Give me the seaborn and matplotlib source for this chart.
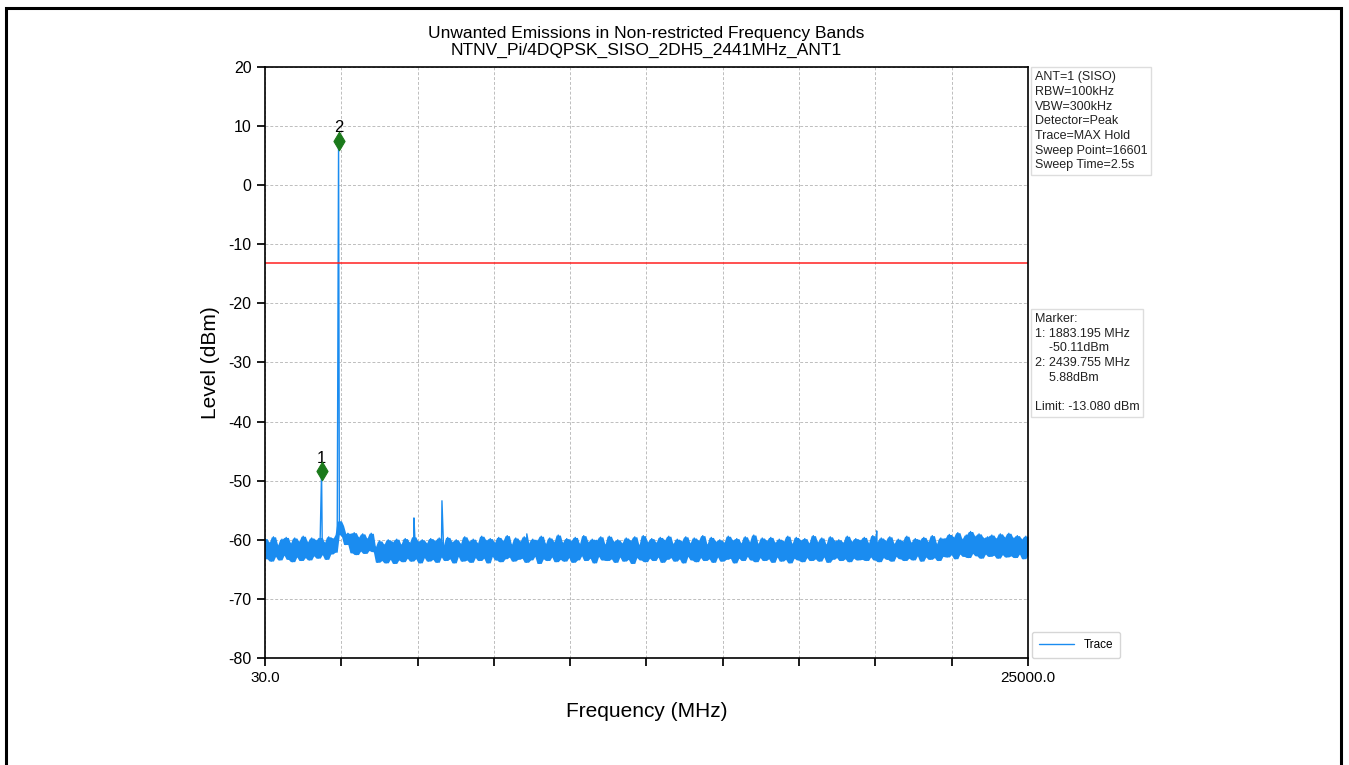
import numpy as np
import pandas as pd
import seaborn as sns
import matplotlib.pyplot as plt
from matplotlib.patches import Rectangle

# ---------------- Datos ----------------
f_start = 30.0
f_stop = 25000.0
limit_dbm = -13.08

# nivel del ruido (barrido uniforme de 30 a 25000 MHz)
noise_levels = [
    -59.8, -63.2, -60.5, -63.6, -59.5, -62.8, -60.9, -63.4, -59.9, -62.6, -59.6, -63.3, -60.6, -63.7, -59.7, -62.9, -60.3, -63.5, -59.4, -63.0,
    -60.4, -63.4, -59.7, -62.7, -60.1, -63.1, -59.6, -62.5, -60.5, -63.3, -59.5, -62.4, -59.8, -62.1, -59.1, -56.8, -57.6, -59.4, -60.8, -58.9,
    -59.3, -62.2, -58.8, -62.5, -59.6, -61.9, -59.0, -62.3, -59.8, -61.8, -58.9, -62.0, -61.2, -63.8, -60.2, -63.5, -60.8, -63.9, -60.0, -63.3,
    -60.4, -64.0, -59.9, -63.4, -60.8, -63.7, -59.8, -63.1, -60.5, -63.6, -59.5, -63.2, -60.3, -63.9, -60.0, -63.0, -60.6, -63.6, -59.8, -63.3,
    -60.2, -63.8, -59.7, -62.9, -60.9, -63.5, -59.6, -63.2, -60.4, -63.9, -60.0, -62.8, -60.7, -63.6, -59.5, -63.4, -60.3, -63.8, -59.9, -63.0,
    -60.6, -63.5, -59.4, -63.1, -60.1, -63.9, -59.8, -62.8, -60.5, -63.4, -59.6, -63.7, -60.2, -63.2, -59.3, -62.9, -60.8, -63.6, -59.7, -63.3,
    -60.3, -63.1, -59.5, -63.8, -60.6, -63.4, -59.9, -62.8, -60.1, -64.0, -59.4, -63.2, -60.7, -63.5, -59.7, -62.9, -60.4, -63.7, -59.2, -63.3,
    -60.5, -63.6, -59.8, -63.0, -60.2, -63.8, -59.6, -63.4, -60.7, -62.7, -59.3, -63.5, -60.4, -63.1, -59.9, -63.9, -60.1, -62.8, -59.5, -63.4,
    -60.8, -63.5, -59.4, -63.2, -60.3, -63.8, -60.0, -62.9, -60.6, -63.6, -59.7, -63.3, -60.2, -64.0, -59.5, -63.0, -60.9, -63.4, -59.3, -63.7,
    -60.4, -63.1, -59.8, -63.5, -60.5, -62.9, -59.6, -63.8, -60.1, -63.3, -59.4, -63.0, -60.7, -63.6, -59.9, -63.2, -60.3, -63.9, -59.5, -62.8,
    -60.6, -63.4, -59.7, -63.7, -60.2, -63.0, -59.3, -63.5, -60.8, -63.2, -59.6, -63.8, -60.3, -62.9, -60.0, -63.6, -60.5, -63.3, -59.4, -63.1,
    -60.1, -63.9, -59.8, -63.1, -60.6, -63.5, -59.5, -62.8, -60.4, -63.4, -59.2, -63.7, -60.7, -63.0, -59.7, -63.5, -60.2, -63.2, -59.6, -63.8,
    -60.5, -62.9, -59.9, -63.6, -60.3, -63.3, -59.4, -63.9, -60.7, -63.1, -59.6, -63.4, -60.1, -63.7, -59.8, -63.0, -60.6, -63.5, -59.3, -63.2,
    -60.4, -63.6, -59.7, -62.9, -60.8, -63.8, -59.5, -63.3, -60.2, -63.0, -60.0, -63.5, -60.5, -63.2, -59.4, -63.7, -60.3, -63.1, -59.8, -63.4,
    -60.1, -63.3, -59.6, -63.5, -60.6, -62.9, -59.3, -63.4, -60.4, -63.7, -59.7, -63.0, -60.2, -63.3, -59.5, -63.6, -60.7, -62.8, -59.9, -63.2,
    -60.3, -63.5, -59.4, -63.1, -60.5, -63.4, -59.8, -62.7, -60.1, -63.6, -59.6, -62.9, -60.4, -63.3, -59.3, -63.0, -60.7, -63.5, -59.7, -62.8,
    -59.8, -62.9, -59.1, -62.5, -59.6, -63.2, -58.8, -62.4, -59.9, -62.8, -59.2, -63.0, -58.6, -62.3, -59.4, -62.7, -59.0, -63.1, -59.7, -62.4,
    -59.5, -62.8, -59.2, -62.6, -59.8, -63.1, -59.0, -62.5, -59.6, -62.9, -58.9, -62.7, -59.7, -63.0, -59.3, -62.4, -59.9, -63.2, -59.4, -62.6,
]

# picos discretos (MHz, dBm)
spike_freq = [1883.195, 2439.755, 4906.0, 5823.0, 8600.0, 20050.0]
spike_level = [-48.4, 7.5, -56.3, -53.4, -59.0, -58.5]

# marcadores
marker_id = ["1", "2"]
marker_freq = [1883.195, 2439.755]
marker_level = [-48.4, 7.5]

setup_text = ("ANT=1 (SISO)\nRBW=100kHz\nVBW=300kHz\nDetector=Peak\n"
              "Trace=MAX Hold\nSweep Point=16601\nSweep Time=2.5s")
marker_text = ("Marker:\n1: 1883.195 MHz\n    -50.11dBm\n2: 2439.755 MHz\n"
               "    5.88dBm\n\nLimit: -13.080 dBm")

# ---------------- Tabla de la traza ----------------
sweep_freq = np.linspace(f_start, f_stop, len(noise_levels))
df = pd.DataFrame({
    "freq": np.concatenate([sweep_freq, spike_freq]),
    "level": np.concatenate([noise_levels, spike_level]),
}).sort_values("freq")

# banda del ruido: máximos y mínimos locales de la traza barrida
noise = pd.Series(noise_levels)
band_hi = noise.rolling(3, center=True, min_periods=1).max()
band_lo = noise.rolling(3, center=True, min_periods=1).min()

# ---------------- Gráfica ----------------
sns.set_theme(style="ticks")
plt.rcParams["font.family"] = ["Liberation Sans", "DejaVu Sans"]
plt.rcParams["axes.unicode_minus"] = False
plt.rcParams["text.color"] = "black"
plt.rcParams["axes.labelcolor"] = "black"
plt.rcParams["xtick.color"] = "black"
plt.rcParams["ytick.color"] = "black"

trace_color = "#1a8cf0"

fig = plt.figure(figsize=(13.49, 7.65), dpi=100)
ax = fig.add_axes([0.1964, 0.1399, 0.5656, 0.7725])

ax.fill_between(sweep_freq, band_lo, band_hi, color=trace_color, linewidth=0)
sns.lineplot(data=df, x="freq", y="level", ax=ax, color=trace_color,
             linewidth=1.0, estimator=None, sort=False, label="Trace")
ax.axhline(limit_dbm, color="#ff2020", linewidth=1.1)

sns.scatterplot(x=marker_freq, y=marker_level, ax=ax, marker="d", s=90,
                color="#1b7a1b", edgecolor="#1b7a1b", zorder=5, legend=False)
for mid, mf, ml in zip(marker_id, marker_freq, marker_level):
    ax.annotate(mid, (mf, ml), xytext=(0, 4), textcoords="offset points",
                ha="center", va="bottom", fontsize=12)

xt = np.linspace(f_start, f_stop, 11)
ax.set_xticks(xt)
ax.set_xticklabels(["30.0"] + [""] * 9 + ["25000.0"], fontsize=11)
ax.set_xlim(f_start, f_stop)
ax.set_ylim(-80, 20)
ax.set_yticks(np.arange(-80, 21, 10))
ax.tick_params(axis="y", labelsize=11.5)
ax.grid(True, linestyle=(0, (3, 2)), color="#bdbdbd", linewidth=0.7)

ax.set_xlabel("Frequency (MHz)", fontsize=15, labelpad=12)
ax.set_ylabel("Level (dBm)", fontsize=15, labelpad=6)
ax.set_title("Unwanted Emissions in Non-restricted Frequency Bands\n"
             "NTNV_Pi/4DQPSK_SISO_2DH5_2441MHz_ANT1", fontsize=12.5,
             pad=9, linespacing=1.1)
for s in ax.spines.values():
    s.set_color("black")
    s.set_linewidth(1.2)

box = dict(boxstyle="square,pad=0.3", facecolor="white", edgecolor="#dddddd")
ax.text(1.009, 0.993, setup_text, transform=ax.transAxes, fontsize=9,
        va="top", ha="left", bbox=box, linespacing=1.3, color="#222222")
ax.text(1.009, 0.584, marker_text, transform=ax.transAxes, fontsize=9,
        va="top", ha="left", bbox=box, linespacing=1.3, color="#222222")

ax.legend(loc="lower left", bbox_to_anchor=(1.005, 0.0), borderaxespad=0.0,
          fontsize=8.5, frameon=True, handlelength=3.0, borderpad=0.6)

# marco de la página
fig.patches.append(Rectangle((0.0048, -0.02), 0.9895, 1.0095, transform=fig.transFigure,
                             fill=False, edgecolor="black", linewidth=2.2))

fig.savefig("out.png", dpi=100)
